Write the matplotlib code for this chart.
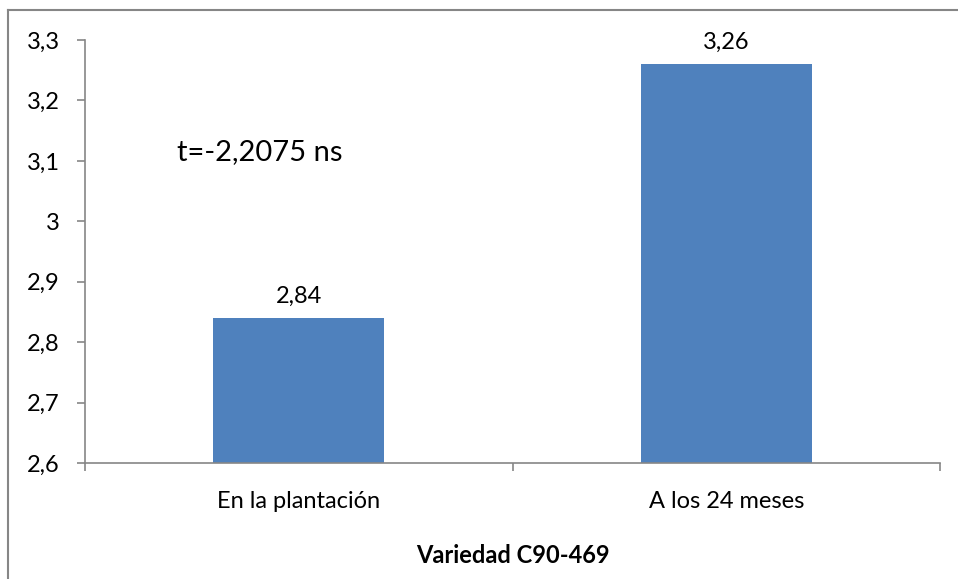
import matplotlib
matplotlib.use("Agg")
import matplotlib.pyplot as plt
from matplotlib.lines import Line2D
from matplotlib.ticker import FixedLocator, FuncFormatter

categories = ["En la plantación", "A los 24 meses"]
values = [2.84, 3.26]
value_labels = ["2,84", "3,26"]
y_ticks = [2.6, 2.7, 2.8, 2.9, 3.0, 3.1, 3.2, 3.3]
y_tick_labels = ["2,6", "2,7", "2,8", "2,9", "3", "3,1", "3,2", "3,3"]
annotation = "t=-2,2075 ns"
x_title = "Variedad C90-469"

plt.rcParams['font.family'] = ['Lato', 'DejaVu Sans']

W, H = 958, 579
fig = plt.figure(figsize=(W / 100, H / 100), dpi=100)
ax = fig.add_axes([85 / W, 1 - 463 / H, (940 - 85) / W, (463 - 40) / H])

bar_color = "#4F81BD"
grey = "#868686"
FS = 17
xs = list(range(len(categories)))
ax.bar(xs, values, width=0.4, color=bar_color, bottom=0)
ax.set_ylim(2.6, 3.3)
ax.set_xlim(-0.5, len(categories) - 0.5)

for x, v, lab in zip(xs, values, value_labels):
    ax.annotate(lab, (x, v), xytext=(0, 8), textcoords="offset points",
                ha="center", va="bottom", fontsize=FS)

ax.set_yticks(y_ticks)
ax.set_yticklabels(y_tick_labels, fontsize=FS)
ax.tick_params(axis="y", direction="out", length=6, color=grey, width=1.2, pad=12)

ax.xaxis.set_major_locator(FixedLocator([-0.5, 0.5, 1.5]))
ax.xaxis.set_major_formatter(FuncFormatter(lambda v, p: ""))
ax.xaxis.set_minor_locator(FixedLocator(xs))
ax.set_xticklabels(categories, minor=True, fontsize=FS)
ax.tick_params(axis="x", which="major", direction="out", length=6, color=grey, width=1.2)
ax.tick_params(axis="x", which="minor", length=0, pad=20)

ax.set_xlabel(x_title, fontsize=FS, fontweight="bold", labelpad=23)

for s in ["top", "right"]:
    ax.spines[s].set_visible(False)
for s in ["left", "bottom"]:
    ax.spines[s].set_color(grey)
    ax.spines[s].set_linewidth(1.2)

ax.text(0.108, 0.735, annotation, transform=ax.transAxes, fontsize=21,
        ha="left", va="center")

fig.add_artist(Line2D([8 / W, 1.0], [1 - 10 / H, 1 - 10 / H], color=grey, lw=1.5,
                      transform=fig.transFigure))
fig.add_artist(Line2D([8 / W, 8 / W], [0, 1 - 10 / H], color=grey, lw=1.5,
                      transform=fig.transFigure))

fig.savefig("out.png", dpi=100)
